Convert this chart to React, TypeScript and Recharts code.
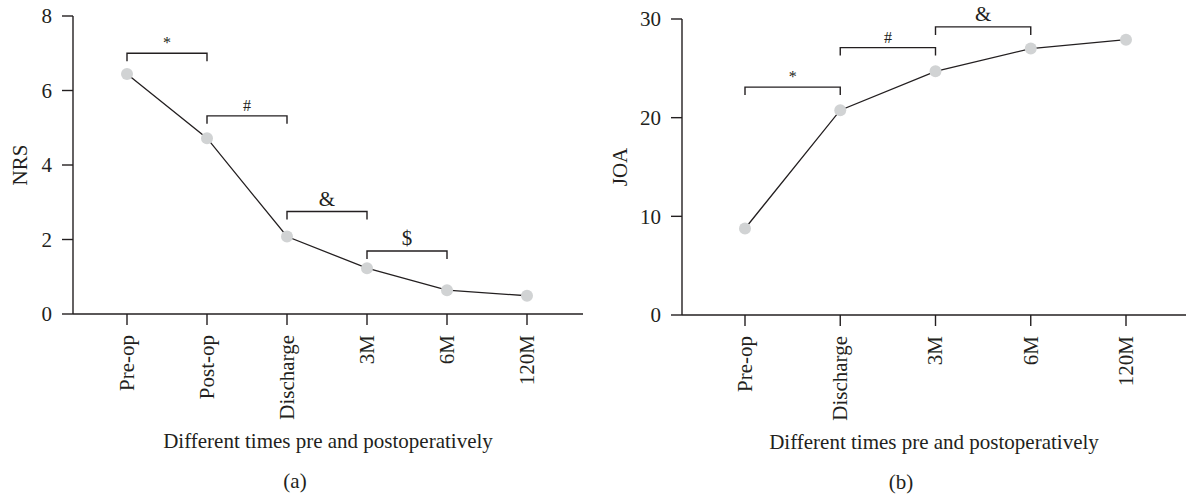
import React from "react";
import { LineChart, Line, XAxis, YAxis, ReferenceLine } from "recharts";

// panel (a): NRS
const nrsTimes = ["Pre-op", "Post-op", "Discharge", "3M", "6M", "120M"];
const nrsValues = [6.44, 4.72, 2.08, 1.23, 0.64, 0.49];
const nrsTicks = [0, 2, 4, 6, 8];
const nrsBrackets = [
  { from: "Pre-op", to: "Post-op", level: 7.0, mark: "*" },
  { from: "Post-op", to: "Discharge", level: 5.32, mark: "#" },
  { from: "Discharge", to: "3M", level: 2.75, mark: "&" },
  { from: "3M", to: "6M", level: 1.69, mark: "$" },
];

// panel (b): JOA
const joaTimes = ["Pre-op", "Discharge", "3M", "6M", "120M"];
const joaValues = [8.77, 20.76, 24.7, 27.0, 27.9];
const joaTicks = [0, 10, 20, 30];
const joaBrackets = [
  { from: "Pre-op", to: "Discharge", level: 23.1, mark: "*" },
  { from: "Discharge", to: "3M", level: 27.1, mark: "#" },
  { from: "3M", to: "6M", level: 29.2, mark: "&" },
];

const xTitle = "Different times pre and postoperatively";

const INK = "#231f20";
const FONT = "'Liberation Serif', 'DejaVu Serif', serif";
const FS = 21;

function bracketShape(mark: string) {
  return (p: any) => {
    const { x1, y1, x2, y2 } = p;
    const small = mark === "*" || mark === "#";
    return (
      <g>
        <path d={`M${x1},${y1 + 8}V${y1}H${x2}V${y2 + 8}`} fill="none" stroke={INK} strokeWidth={1.4} />
        <text x={(x1 + x2) / 2} y={y1 - (small ? 5 : 6)} textAnchor="middle" fontSize={small ? 16 : FS} fill={INK} fontFamily={FONT}>
          {mark}
        </text>
      </g>
    );
  };
}

const XTick = (p: any) => (
  <text x={p.x} y={p.y} transform={`rotate(-90 ${p.x} ${p.y})`} textAnchor="end" dy="0.33em" fontSize={FS} fill={INK} fontFamily={FONT}>
    {p.payload.value}
  </text>
);

const YTick = (p: any) => (
  <text x={p.x} y={p.y} textAnchor="end" dy="0.35em" fontSize={FS} fill={INK} fontFamily={FONT}>
    {p.payload.value}
  </text>
);

function Panel(props: {
  left: number;
  width: number;
  times: string[];
  values: number[];
  ticks: number[];
  brackets: { from: string; to: string; level: number; mark: string }[];
  yLabel: string;
  tag: string;
  margin: { top: number; right: number; bottom: number; left: number };
  yWidth: number;
  xHeight: number;
  pad: { left: number; right: number };
}) {
  const data = props.times.map((t, i) => ({ time: t, value: props.values[i] }));
  const top = props.ticks[props.ticks.length - 1];
  return (
    <div style={{ position: "absolute", left: props.left, top: 0 }}>
      <LineChart width={props.width} height={498} data={data} margin={props.margin}>
        <XAxis
          dataKey="time"
          height={props.xHeight}
          padding={props.pad}
          stroke={INK}
          strokeWidth={1.4}
          tickSize={11}
          tickMargin={10}
          tick={XTick}
          interval={0}
          label={(lp: any) => {
            const vb = lp.viewBox || {};
            const cx = vb.x + vb.width / 2;
            return (
              <g fontFamily={FONT} fill={INK} fontSize={FS}>
                <text x={cx} y={vb.y + 134} textAnchor="middle">{xTitle}</text>
                <text x={cx - 33} y={vb.y + 174} textAnchor="middle">{props.tag}</text>
              </g>
            );
          }}
        />
        <YAxis
          domain={[0, top]}
          ticks={props.ticks}
          width={props.yWidth}
          stroke={INK}
          strokeWidth={1.4}
          tickSize={11}
          tickMargin={10}
          tick={YTick}
          label={(lp: any) => {
            const vb = lp.viewBox || {};
            const cy = vb.y + vb.height / 2;
            const x = vb.x + 7 - props.margin.left + 13;
            return (
              <text x={x} y={cy} transform={`rotate(-90 ${x} ${cy})`} textAnchor="middle" dy="0.35em" fontFamily={FONT} fill={INK} fontSize={FS}>
                {props.yLabel}
              </text>
            );
          }}
        />
        {props.brackets.map((b) => (
          <ReferenceLine
            key={b.from}
            segment={[
              { x: b.from, y: b.level },
              { x: b.to, y: b.level },
            ]}
            ifOverflow="visible"
            shape={bracketShape(b.mark)}
          />
        ))}
        <Line
          dataKey="value"
          type="linear"
          stroke={INK}
          strokeWidth={1.3}
          dot={{ r: 6, fill: "#d1d3d4", stroke: "none" }}
          activeDot={false}
          isAnimationActive={false}
        />
      </LineChart>
    </div>
  );
}

export default function App() {
  return (
    <div style={{ position: "absolute", left: 0, top: 0, width: 1186, height: 498, background: "#fff", overflow: "hidden" }}>
      <Panel
        left={0}
        width={600}
        times={nrsTimes}
        values={nrsValues}
        ticks={nrsTicks}
        brackets={nrsBrackets}
        yLabel="NRS"
        tag="(a)"
        margin={{ top: 16, right: 17, bottom: 0, left: 13 }}
        yWidth={60}
        xHeight={184}
        pad={{ left: 54, right: 56 }}
      />
      <Panel
        left={600}
        width={586}
        times={joaTimes}
        values={joaValues}
        ticks={joaTicks}
        brackets={joaBrackets}
        yLabel="JOA"
        tag="(b)"
        margin={{ top: 19, right: 0, bottom: 0, left: 12 }}
        yWidth={70}
        xHeight={183}
        pad={{ left: 63, right: 60 }}
      />
    </div>
  );
}
